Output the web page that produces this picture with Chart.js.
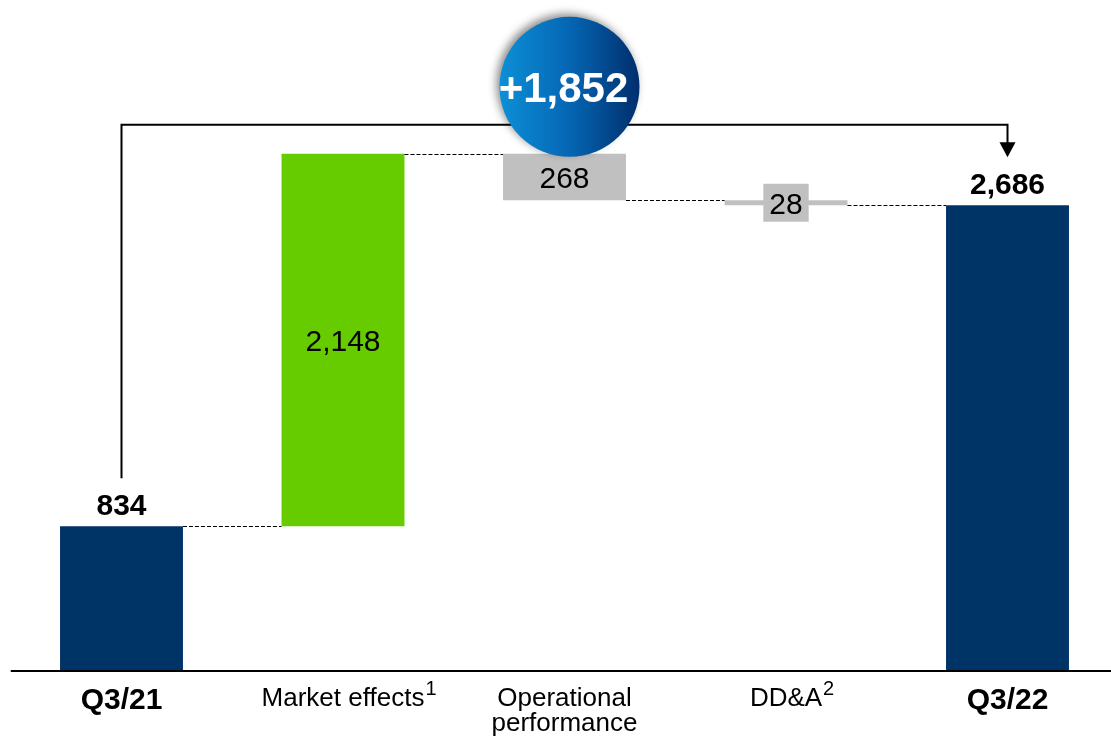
<!DOCTYPE html>
<html>
<head>
<meta charset="utf-8">
<script src="https://cdn.jsdelivr.net/npm/chart.js@4.4.0/dist/chart.umd.min.js"></script>
<style>
html,body{margin:0;padding:0;background:#fff;overflow:hidden}
canvas{display:block}
</style>
</head>
<body>
<canvas id="c" width="1111" height="736"></canvas>
<script>
// ---- data ----
const categoryLines = [['Q3/21'], ['Market effects'], ['Operational', 'performance'], ['DD&A'], ['Q3/22']];
const footnotes = ['', '1', '', '2', ''];
const values = [834, 2148, -268, -28, 2686];
const kinds = ['total', 'delta', 'delta', 'delta', 'total'];

// ---- styles ----
const NAVY = '#003366', GREEN = '#66CC00', GREY = '#C0C0C0';
const FONT = '"Liberation Sans", Arial, Helvetica, sans-serif';

// floating ranges built from the values
let running = 0;
const ranges = values.map((v, i) => {
  if (kinds[i] === 'total') { running = v; return [0, v]; }
  const s = running; running += v; return [s, running];
});
const levels = ranges.map(r => r[1]);
const barColors = values.map((v, i) => kinds[i] === 'total' ? NAVY : (v >= 0 ? GREEN : GREY));
const fmt = n => Math.abs(n).toLocaleString('en-US');

const annot = {
  id: 'annot',
  afterDatasetsDraw(chart) {
    const { ctx, chartArea, scales: { x, y } } = chart;
    const bars = chart.getDatasetMeta(0).data;
    const step = x.getPixelForValue(1) - x.getPixelForValue(0);
    ctx.save();

    // baseline axis
    ctx.strokeStyle = '#000';
    ctx.lineWidth = 2;
    ctx.beginPath();
    ctx.moveTo(x.getPixelForValue(0) - step / 2, chartArea.bottom);
    ctx.lineTo(chart.width, chartArea.bottom);
    ctx.stroke();

    // dashed connectors
    ctx.lineWidth = 1;
    ctx.strokeStyle = '#000';
    ctx.setLineDash([4, 2]);
    for (let i = 0; i < bars.length - 1; i++) {
      const yy = Math.round(y.getPixelForValue(levels[i])) + 0.5;
      ctx.beginPath();
      ctx.moveTo(bars[i].x + bars[i].width / 2, yy);
      ctx.lineTo(bars[i + 1].x - bars[i + 1].width / 2, yy);
      ctx.stroke();
    }
    ctx.setLineDash([]);

    // value labels
    ctx.textAlign = 'center';
    ctx.textBaseline = 'alphabetic';
    bars.forEach((b, i) => {
      const top = Math.min(b.y, b.base), bot = Math.max(b.y, b.base);
      if (kinds[i] === 'total') {
        ctx.fillStyle = '#000';
        ctx.font = 'bold 30px ' + FONT;
        ctx.fillText(fmt(values[i]), b.x, top - 11);
      } else {
        const cy = (top + bot) / 2;
        ctx.font = '30px ' + FONT;
        const txt = fmt(values[i]);
        if (bot - top < 30) {
          const w = ctx.measureText(txt).width + 12;
          ctx.fillStyle = GREY;
          ctx.fillRect(b.x - w / 2, cy - 19, w, 38);
        }
        ctx.fillStyle = '#000';
        ctx.fillText(txt, b.x, cy + 11);
      }
    });

    // category labels
    bars.forEach((b, i) => {
      const bold = kinds[i] === 'total';
      ctx.font = (bold ? 'bold 30px ' : '26px ') + FONT;
      ctx.fillStyle = '#000';
      ctx.textAlign = 'center';
      const base = chartArea.bottom + (bold ? 38 : 35);
      categoryLines[i].forEach((ln, k) => ctx.fillText(ln, b.x, base + k * 25));
      if (footnotes[i]) {
        const w = ctx.measureText(categoryLines[i][0]).width;
        ctx.font = '20px ' + FONT;
        ctx.textAlign = 'left';
        ctx.fillText(footnotes[i], b.x + w / 2 + 1, base - 11);
      }
    });

    // bracket with arrow
    const maxLevel = Math.max(...levels);
    const yTop = y.getPixelForValue(maxLevel) - 29;
    const xL = bars[0].x, yL = bars[0].y - 48;
    const last = bars.length - 1;
    const xR = bars[last].x, tip = bars[last].y - 48;
    ctx.strokeStyle = '#000';
    ctx.lineWidth = 2;
    ctx.beginPath();
    ctx.moveTo(xL, yL);
    ctx.lineTo(xL, yTop);
    ctx.lineTo(xR, yTop);
    ctx.lineTo(xR, tip - 14);
    ctx.stroke();
    ctx.fillStyle = '#000';
    ctx.beginPath();
    ctx.moveTo(xR - 8, tip - 15);
    ctx.lineTo(xR + 8, tip - 15);
    ctx.lineTo(xR, tip);
    ctx.closePath();
    ctx.fill();

    // circle with total change
    const cx = bars[2].x + 5, cy = yTop - 38, r = 70;
    ctx.save();
    ctx.shadowColor = 'rgba(0,0,0,0.45)';
    ctx.shadowBlur = 9;
    ctx.shadowOffsetX = -3;
    ctx.shadowOffsetY = -3;
    const g = ctx.createLinearGradient(cx - r, cy, cx + r, cy);
    g.addColorStop(0, '#0C8FD6');
    g.addColorStop(0.5, '#0566B4');
    g.addColorStop(1, '#002E6C');
    ctx.fillStyle = g;
    ctx.beginPath();
    ctx.arc(cx, cy, r, 0, Math.PI * 2);
    ctx.fill();
    ctx.restore();
    const delta = values[last] - values[0];
    ctx.fillStyle = '#fff';
    ctx.font = 'bold 42px ' + FONT;
    ctx.textAlign = 'center';
    ctx.fillText((delta >= 0 ? '+' : '-') + fmt(delta), cx - 6, cy + 15);

    ctx.restore();
  }
};

new Chart(document.getElementById('c'), {
  type: 'bar',
  data: {
    labels: categoryLines,
    datasets: [{
      data: ranges,
      backgroundColor: barColors,
      borderWidth: 0,
      categoryPercentage: 0.555,
      barPercentage: 1,
      clip: false
    }]
  },
  options: {
    responsive: false,
    animation: false,
    layout: { padding: { left: 121.5, right: 103.5, top: 12, bottom: 65 } },
    scales: {
      x: { display: false, offset: false },
      y: { display: false, min: 0, max: 3800 }
    },
    plugins: { legend: { display: false }, tooltip: { enabled: false } }
  },
  plugins: [annot]
});
</script>
</body>
</html>
